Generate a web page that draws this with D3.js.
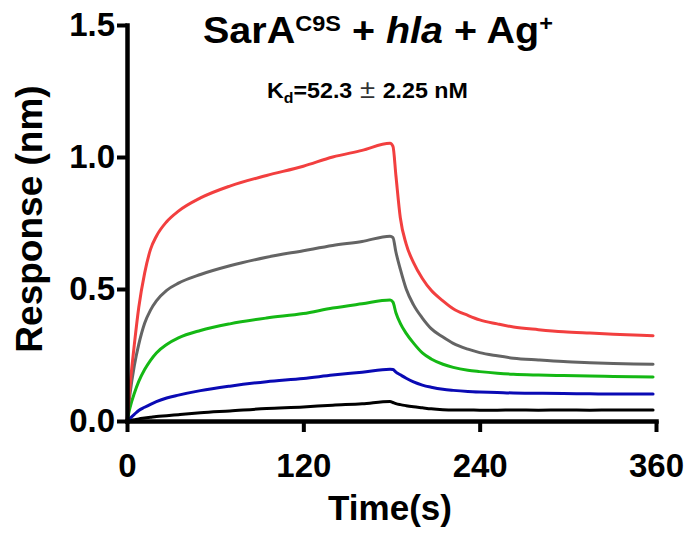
<!DOCTYPE html>
<html>
<head>
<meta charset="utf-8">
<script src="https://cdn.jsdelivr.net/npm/d3@7"></script>
<style>
  html, body { margin: 0; padding: 0; background: #fff; }
  svg { display: block; }
  text { font-family: "Liberation Sans", Arial, sans-serif; font-weight: bold; fill: #000; }
</style>
</head>
<body>
<svg id="chart" width="689" height="536"></svg>
<script>
// ---- data ----
const times = [0, 2, 5, 8, 12, 16, 20, 27, 35, 50, 70, 95, 120, 140, 160, 179,
  181, 183, 186, 190, 195, 201, 207, 215, 222, 232, 240, 252, 263, 280, 297, 315, 331, 345, 358];

const redValues = [0, 0.13, 0.29, 0.43, 0.56, 0.65, 0.70, 0.755, 0.795, 0.845, 0.89, 0.93, 0.965, 1.0, 1.025, 1.052,
  1.04, 0.93, 0.77, 0.67, 0.60, 0.54, 0.495, 0.455, 0.425, 0.40, 0.383, 0.368, 0.356, 0.346, 0.338, 0.333, 0.329, 0.326, 0.323];
const grayValues = [0, 0.10, 0.21, 0.29, 0.37, 0.42, 0.455, 0.495, 0.522, 0.555, 0.588, 0.62, 0.645, 0.665, 0.68, 0.70,
  0.695, 0.64, 0.575, 0.50, 0.44, 0.39, 0.35, 0.318, 0.294, 0.272, 0.259, 0.247, 0.238, 0.231, 0.225, 0.221, 0.218, 0.216, 0.215];
const greenValues = [0, 0.05, 0.105, 0.15, 0.195, 0.23, 0.258, 0.29, 0.315, 0.343, 0.368, 0.39, 0.407, 0.428, 0.444, 0.458,
  0.45, 0.41, 0.37, 0.332, 0.295, 0.258, 0.235, 0.215, 0.203, 0.192, 0.187, 0.181, 0.177, 0.174, 0.172, 0.170, 0.169, 0.168, 0.167];
const blueValues = [0, 0.01, 0.025, 0.04, 0.052, 0.063, 0.073, 0.087, 0.098, 0.115, 0.132, 0.149, 0.161, 0.174, 0.185, 0.196,
  0.195, 0.185, 0.175, 0.162, 0.148, 0.136, 0.128, 0.12, 0.116, 0.112, 0.11, 0.108, 0.106, 0.105, 0.104, 0.103, 0.102, 0.102, 0.102];
const blackValues = [0, 0.002, 0.005, 0.008, 0.011, 0.014, 0.017, 0.02, 0.024, 0.031, 0.038, 0.047, 0.053, 0.06, 0.065, 0.074,
  0.07, 0.066, 0.062, 0.058, 0.054, 0.05, 0.046, 0.043, 0.042, 0.042, 0.041, 0.041, 0.042, 0.041, 0.042, 0.041, 0.042, 0.042, 0.042];

const seriesNames = ["red", "gray", "green", "blue", "black"];
const seriesColors = ["#f23f3f", "#646464", "#14b814", "#0a0ab4", "#000000"];
const xTicks = [0, 120, 240, 360];
const yTicks = [0.0, 0.5, 1.0, 1.5];

// ---- layout ----
const svg = d3.select("#chart");
const x = d3.scaleLinear().domain([0, 360]).range([127, 656]);
const y = d3.scaleLinear().domain([0, 1.5]).range([421, 25]);

const allValues = [redValues, grayValues, greenValues, blueValues, blackValues];
const line = d3.line().x(d => x(d[0])).y(d => y(d[1])).curve(d3.curveMonotoneX);

const order = [4, 3, 2, 1, 0];
order.forEach(i => {
  const pts = times.map((t, j) => [t, allValues[i][j]]);
  svg.append("path")
    .attr("d", line(pts))
    .attr("fill", "none")
    .attr("stroke", seriesColors[i])
    .attr("stroke-width", 3)
    .attr("stroke-linejoin", "round")
    .attr("stroke-linecap", "round");
});

// axes
const xAxis = svg.append("g").attr("transform", `translate(0,${y(0)})`)
  .call(d3.axisBottom(x).tickValues(xTicks).tickFormat(d3.format("d")).tickSize(11).tickSizeOuter(0).tickPadding(22));
const yAxis = svg.append("g").attr("transform", `translate(${x(0)},0)`)
  .call(d3.axisLeft(y).tickValues(yTicks).tickFormat(d3.format(".1f")).tickSize(10).tickSizeOuter(0).tickPadding(2));

[xAxis, yAxis].forEach(g => {
  g.select(".domain").attr("stroke", "#000").attr("stroke-width", 4.5).attr("stroke-linecap", "square");
  g.selectAll(".tick line").attr("stroke", "#000").attr("stroke-width", 4);
  g.selectAll(".tick text").attr("fill", "#000")
    .style("font-family", '"Liberation Sans", Arial, sans-serif')
    .style("font-weight", "bold").style("font-size", "33px");
});
xAxis.selectAll(".tick text").attr("dy", "0");
xAxis.selectAll(".tick text").attr("y", 477 - y(0));

// axis titles
svg.append("text").attr("x", 390).attr("y", 520).attr("text-anchor", "middle")
  .style("font-size", "35px").text("Time(s)");
svg.append("text").attr("transform", "translate(42,219) rotate(-90)").attr("text-anchor", "middle")
  .style("font-size", "37px").text("Response (nm)");

// title
const title = svg.append("text").attr("x", 0).attr("y", 0).style("font-size", "37px");
title.append("tspan").text("SarA");
title.append("tspan").attr("dy", -12).style("font-size", "22px").text("C9S");
title.append("tspan").attr("dy", 12).text(" + ");
title.append("tspan").style("font-style", "italic").text("hla");
title.append("tspan").text(" + Ag");
title.append("tspan").attr("dy", -12).style("font-size", "22px").text("+");
function fitX(sel, x0, x1, baseline) {
  const bb = sel.node().getBBox();
  const s = (x1 - x0) / bb.width;
  sel.attr("transform", `translate(${x0 - bb.x * s},${baseline}) scale(${s},1)`);
}
fitX(title, 203, 553, 43);

// Kd annotation
const kd = svg.append("text").attr("x", 0).attr("y", 0).style("font-size", "22px");
kd.append("tspan").text("K");
kd.append("tspan").attr("dy", 5).style("font-size", "15px").text("d");
kd.append("tspan").attr("dy", -5).text("=52.3");
kd.append("tspan").style("font-weight", "normal").style("font-size", "26px").attr("fill", "#333").text("\u00a0±\u00a0");
kd.append("tspan").text("2.25 nM");
fitX(kd, 267, 468, 98);
</script>
</body>
</html>
